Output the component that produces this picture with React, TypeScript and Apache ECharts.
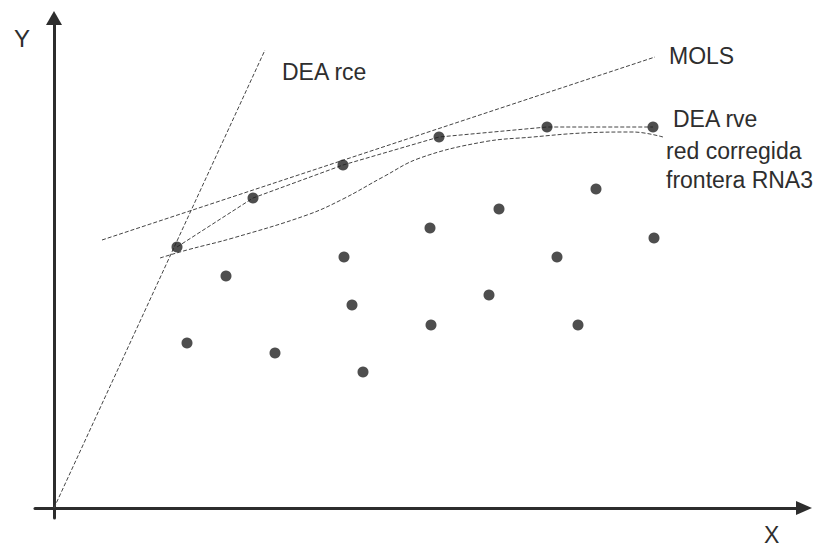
import React, { useEffect, useRef } from "react";
import * as echarts from "echarts";

// Units: arbitrary input (X) and output (Y) quantities, origin at (0,0)
const dmuPoints: [number, number][] = [
  [123, 261], [199, 310], [289, 343], [385, 371], [493, 381], [599, 381],
  [542, 319], [445, 299], [376, 280], [600, 270], [290, 251], [503, 251],
  [172, 232], [298, 203], [435, 213], [377, 183], [524, 183], [133, 165],
  [221, 155], [309, 136],
];

const deaRce: [number, number][] = [[0, 0], [211, 458]];
const mols: [number, number][] = [[48, 268], [601, 451]];
const deaRve: [number, number][] = [
  [123, 261], [199, 310], [289, 343], [385, 371], [493, 381], [599, 381],
];
const rna3: [number, number][] = [
  [106, 250], [133, 258], [179, 270], [253, 293], [289, 309], [329, 331],
  [366, 350], [429, 366], [479, 371], [529, 375], [579, 376], [609, 371],
];

const labels = {
  rce: "DEA rce",
  mols: "MOLS",
  rve: "DEA rve",
  rna1: "red corregida",
  rna2: "frontera RNA3",
  x: "X",
  y: "Y",
};

export default function App() {
  const ref = useRef<HTMLDivElement>(null);
  useEffect(() => {
    if (!ref.current) return;
    const chart = echarts.init(ref.current, undefined, { renderer: "svg" });
    const font = "'Liberation Sans', Arial, sans-serif";
    const txt = "#2e2e2e";
    const lineStyle = { color: "#444", width: 1, type: [4, 2] as any };
    chart.setOption({
      animation: false,
      backgroundColor: "#fff",
      grid: { left: 35, right: 28, top: 18, bottom: 31 },
      xAxis: {
        type: "value",
        min: -19,
        max: 750,
        axisLine: {
          onZero: true,
          lineStyle: { color: "#2d2d2d", width: 3 },
          symbol: ["none", "triangle"],
          symbolSize: [14, 16],
        },
        axisTick: { show: false },
        axisLabel: { show: false },
        splitLine: { show: false },
      },
      yAxis: {
        type: "value",
        min: -10,
        max: 490,
        axisLine: {
          show: true,
          onZero: true,
          lineStyle: { color: "#2d2d2d", width: 3 },
          symbol: ["none", "triangle"],
          symbolSize: [16, 14],
        },
        axisTick: { show: false },
        axisLabel: { show: false },
        splitLine: { show: false },
      },
      series: [
        { type: "line", data: deaRce, symbol: "none", lineStyle, z: 2 },
        { type: "line", data: mols, symbol: "none", lineStyle, z: 2 },
        { type: "line", data: deaRve, symbol: "none", lineStyle, z: 2 },
        { type: "line", data: rna3, symbol: "none", smooth: 0.4, lineStyle, z: 2 },
        {
          type: "scatter",
          data: dmuPoints,
          symbolSize: 11,
          itemStyle: { color: "#222" },
          z: 3,
        },
      ],
      graphic: [
        { type: "text", left: 282, top: 60, style: { text: labels.rce, font: `23px ${font}`, fill: txt } },
        { type: "text", left: 669, top: 44, style: { text: labels.mols, font: `23px ${font}`, fill: txt } },
        { type: "text", left: 673, top: 107, style: { text: labels.rve, font: `23px ${font}`, fill: txt } },
        { type: "text", left: 666, top: 139, style: { text: labels.rna1, font: `23px ${font}`, fill: txt } },
        { type: "text", left: 666, top: 168, style: { text: labels.rna2, font: `23px ${font}`, fill: txt } },
        { type: "text", left: 14, top: 26, style: { text: labels.y, font: `24px ${font}`, fill: txt } },
        { type: "text", left: 764, top: 523, style: { text: labels.x, font: `23px ${font}`, fill: txt } },
      ],
    });
    return () => chart.dispose();
  }, []);
  return (
    <div
      ref={ref}
      style={{ position: "fixed", left: 0, top: 0, width: 832, height: 549 }}
    />
  );
}
